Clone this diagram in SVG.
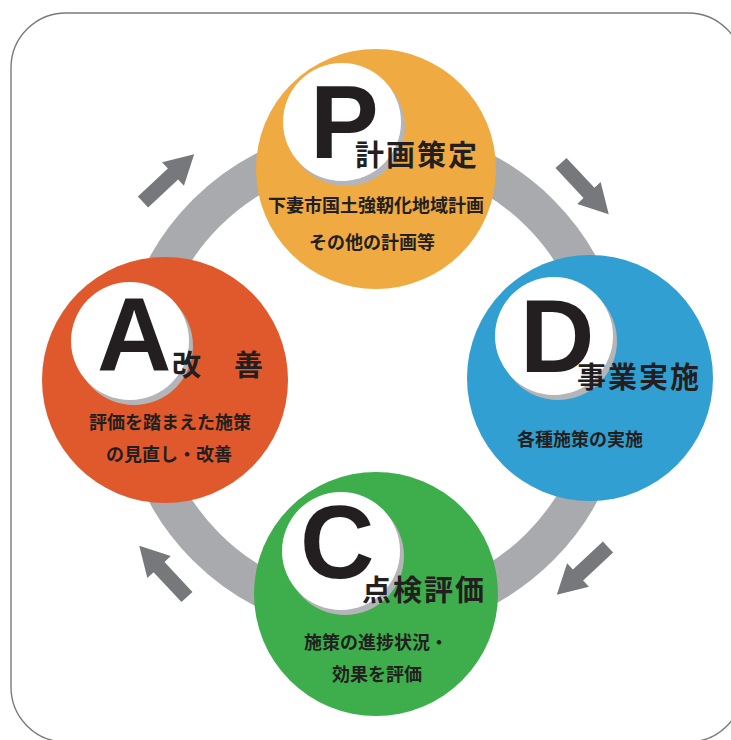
<svg xmlns="http://www.w3.org/2000/svg" width="731" height="740" viewBox="0 0 731 740">
<defs>
<style>
.frame{fill:#fff;stroke:#7a7a7a;stroke-width:1.4}
.ring{fill:none;stroke:#a8aaad;stroke-width:38}
.arrow{fill:#77787b}
.shadow{fill:#b3b5b8}
.white{fill:#fff}
.big{font-family:'Liberation Sans',Arial,sans-serif;font-weight:700;font-size:103px;fill:#231f20}
.title{font-family:'Noto Sans CJK JP',sans-serif;font-weight:700;font-size:29px;fill:#231f20;letter-spacing:2px}
.body{font-family:'Noto Sans CJK JP',sans-serif;font-weight:700;font-size:18px;fill:#231f20;text-anchor:middle}
</style>
<path id="arr" d="M0,-7.5 L41,-7.5 L41,-16 L70,0 L41,16 L41,7.5 L0,7.5 Z"/>
</defs>
<rect class="frame" x="11" y="13" width="732" height="729" rx="55" ry="55"/>
<g id="connectors">
<circle class="ring" cx="373" cy="380" r="236"/>
<use href="#arr" class="arrow" transform="translate(143,202) rotate(-43)"/>
<use href="#arr" class="arrow" transform="translate(561,163) rotate(47)"/>
<use href="#arr" class="arrow" transform="translate(608,547) rotate(137)"/>
<use href="#arr" class="arrow" transform="translate(187,597) rotate(-133)"/>
</g>
<g id="node-P">
<circle cx="376" cy="169" r="120" fill="#efaa42"/>
<circle class="shadow" cx="346" cy="127" r="59"/>
<circle class="white" cx="342" cy="122" r="59"/>
<text class="big" x="310" y="158">P</text>
<text class="title" x="355" y="166">計画策定</text>
<text class="body" x="376" y="212" font-size="17.3">下妻市国土強靭化地域計画</text>
<text class="body" x="372" y="249">その他の計画等</text>
</g>
<g id="node-D">
<circle cx="590" cy="378" r="123" fill="#319fd2"/>
<circle class="shadow" cx="558" cy="341" r="59"/>
<circle class="white" cx="554" cy="336" r="59"/>
<text class="big" x="520" y="372">D</text>
<text class="title" x="577" y="388">事業実施</text>
<text class="body" x="580" y="446">各種施策の実施</text>
</g>
<g id="node-C">
<circle cx="376" cy="594" r="122" fill="#3dae4b"/>
<circle class="shadow" cx="345" cy="556" r="59"/>
<circle class="white" cx="341" cy="551" r="59"/>
<text class="big" x="300" y="578">C</text>
<text class="title" x="362" y="601">点検評価</text>
<text class="body" x="376" y="649">施策の進捗状況・</text>
<text class="body" x="377" y="681">効果を評価</text>
</g>
<g id="node-A">
<circle cx="165" cy="380" r="123" fill="#e0592c"/>
<circle class="shadow" cx="134" cy="346" r="59"/>
<circle class="white" cx="130" cy="341" r="59"/>
<text class="big" x="97" y="370">A</text>
<text class="title" x="172" y="376" letter-spacing="0">改　善</text>
<text class="body" x="170" y="429">評価を踏まえた施策</text>
<text class="body" x="169" y="461">の見直し・改善</text>
</g>
</svg>
